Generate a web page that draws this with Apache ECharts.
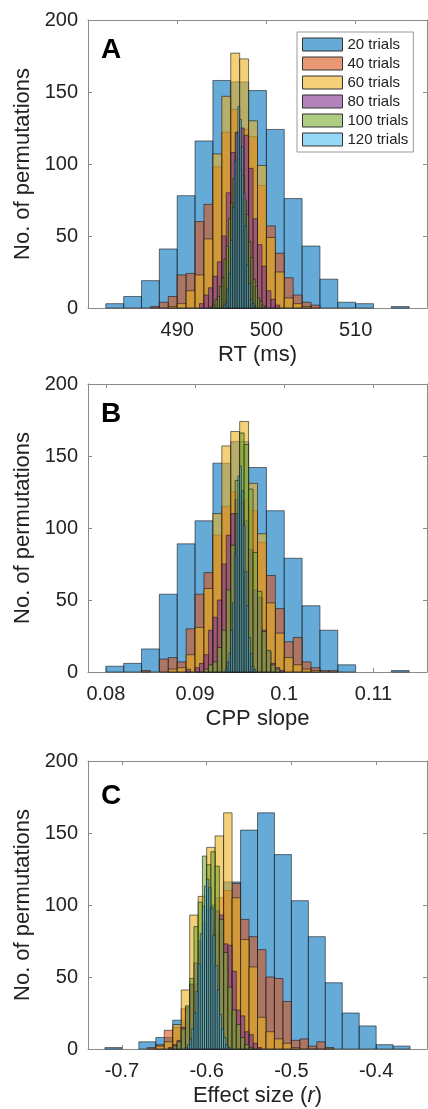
<!DOCTYPE html>
<html><head><meta charset="utf-8">
<script src="https://cdn.jsdelivr.net/npm/echarts@6/dist/echarts.min.js"></script>
<style>html,body{margin:0;padding:0;background:#fff}#c{width:428px;height:1109px}</style>
</head><body><div id="c"></div>
<script>
// ---- series names ----
const seriesNames = ['20 trials','40 trials','60 trials','80 trials','100 trials','120 trials'];

// ---- Panel A: RT (ms) ----  bin starts / widths and counts per series
const A_starts = [482, 487, 489, 492.5, 493.75, 495.2];
const A_bins   = [2, 1, 1, 0.5, 0.25, 0.2];
const A20  = [3, 8, 19, 41, 78, 116, 158, 157, 151, 124, 76, 43, 20, 4, 3, 0, 1];
const A40  = [1, 4, 8, 23, 24, 60, 72, 98, 122, 138, 124, 119, 85, 57, 38, 21, 9, 4, 2];
const A60  = [1, 3, 12, 23, 48, 107, 147, 177, 173, 130, 99, 49, 25, 7, 3, 1];
const A80  = [3, 9, 14, 22, 32, 50, 80, 108, 122, 125, 120, 97, 62, 44, 29, 12, 6, 2];
const A100 = [1, 2, 6, 8, 15, 21, 34, 43, 62, 73, 90, 95, 103, 96, 92, 75, 65, 46, 35, 20, 15, 7, 5, 2, 1];
const A120 = [2, 4, 13, 24, 47, 70, 102, 122, 140, 131, 112, 80, 57, 30, 17, 6, 3, 1];
const A_ticks = [490, 500, 510];

// ---- Panel B: CPP slope ----
const B_starts = [0.080, 0.084, 0.087, 0.089, 0.091, 0.0934];
const B_bins   = [0.002, 0.001, 0.001, 0.0005, 0.0005, 0.0002];
const B20  = [4, 6, 16, 54, 89, 105, 145, 160, 142, 112, 79, 46, 29, 5, 0, 0, 1];
const B40  = [1, 0, 9, 10, 7, 30, 54, 69, 95, 115, 125, 120, 112, 90, 67, 44, 21, 24, 7, 3, 1, 1];
const B60  = [2, 3, 12, 31, 58, 110, 157, 167, 174, 131, 96, 48, 27, 10, 5, 2, 1];
const B80  = [2, 0, 3, 6, 12, 29, 38, 50, 75, 95, 110, 120, 118, 105, 85, 57, 52, 29, 14, 6, 3, 1];
const B100 = [2, 5, 7, 17, 29, 57, 88, 133, 166, 158, 127, 83, 56, 28, 15, 5, 2];
const B120 = [2, 7, 13, 29, 48, 82, 110, 136, 143, 126, 102, 70, 46, 24, 13, 4, 2];
const B_ticks = [0.08, 0.09, 0.1, 0.11];

// ---- Panel C: Effect size (r) ----
const C_starts = [-0.72, -0.67, -0.66, -0.645, -0.64, -0.625];
const C_bins   = [0.02, 0.01, 0.01, 0.005, 0.005, 0.0025];
const C20  = [1, 0, 5, 8, 20, 45, 80, 116, 152, 164, 135, 103, 78, 46, 25, 16, 3, 2];
const C40  = [1, 3, 13, 15, 28, 45, 65, 85, 105, 110, 115, 90, 78, 69, 50, 49, 33, 6, 7, 2, 5, 1];
const C60  = [2, 5, 17, 41, 93, 106, 140, 148, 164, 105, 76, 57, 22, 12, 7, 4, 1];
const C80  = [1, 3, 6, 15, 29, 45, 60, 75, 88, 98, 100, 96, 93, 73, 72, 54, 27, 23, 12, 10, 4, 1];
const C100 = [2, 5, 14, 30, 49, 85, 102, 134, 128, 137, 127, 90, 67, 43, 27, 17, 8, 3, 1];
const C120 = [1, 3, 7, 14, 25, 40, 59, 80, 99, 113, 118, 112, 98, 79, 58, 41, 24, 14, 8, 3, 1];
const C_ticks = [-0.7, -0.6, -0.5, -0.4];

// ---- styling ----
const FF = '"Liberation Sans", Arial, Helvetica, sans-serif';
const fills = ['rgba(0,114,189,0.6)','rgba(217,83,25,0.6)','rgba(237,177,32,0.6)',
               'rgba(126,47,142,0.6)','rgba(119,172,48,0.6)','rgba(77,190,238,0.6)'];
const EDGE = 'rgba(25,25,25,0.75)';
const AX = '#8a8a8a';
const TXT = '#222';

const panels = [
  {counts:[A20,A40,A60,A80,A100,A120], starts:A_starts, bins:A_bins, ticks:A_ticks, min:480, max:518, name:'RT (ms)', letter:'A'},
  {counts:[B20,B40,B60,B80,B100,B120], starts:B_starts, bins:B_bins, ticks:B_ticks, min:0.078, max:0.116, name:'CPP slope', letter:'B'},
  {counts:[C20,C40,C60,C80,C100,C120], starts:C_starts, bins:C_bins, ticks:C_ticks, min:-0.74, max:-0.34, name:'Effect size ({i|r})', letter:'C'}
];
const gridTops = [20, 384, 761];

const grids = [], xAxes = [], yAxes = [], series = [], graphics = [];
panels.forEach((p, gi) => {
  grids.push({left:88, top:gridTops[gi], width:339, height:288, containLabel:false});
  const fmt = v => String(+(+v).toFixed(4));
  xAxes.push({type:'value', gridIndex:gi, min:p.min, max:p.max, position:'bottom',
    name:p.name, nameLocation:'middle', nameGap:36,
    nameTextStyle:{fontSize:22, color:TXT, fontFamily:FF, rich:{i:{fontSize:22, fontStyle:'italic', color:TXT, fontFamily:FF}}},
    axisLine:{show:true, onZero:false, lineStyle:{color:AX, width:1}},
    axisTick:{show:true, inside:true, length:4, customValues:p.ticks, lineStyle:{color:AX}},
    axisLabel:{show:true, customValues:p.ticks, formatter:fmt, fontSize:20, color:TXT, margin:12, fontFamily:FF},
    splitLine:{show:false}});
  xAxes.push({type:'value', gridIndex:gi, min:p.min, max:p.max, position:'top',
    axisLine:{show:true, onZero:false, lineStyle:{color:AX, width:1}},
    axisTick:{show:true, inside:true, length:4, customValues:p.ticks, lineStyle:{color:AX}},
    axisLabel:{show:false}, splitLine:{show:false}});
  yAxes.push({type:'value', gridIndex:gi, min:0, max:200, interval:50, position:'left',
    name:'No. of permutations', nameLocation:'middle', nameGap:46,
    nameTextStyle:{fontSize:22, color:TXT, fontFamily:FF},
    axisLine:{show:true, onZero:false, lineStyle:{color:AX, width:1}},
    axisTick:{show:true, inside:true, length:4, lineStyle:{color:AX}},
    axisLabel:{show:true, fontSize:20, color:TXT, margin:10, fontFamily:FF},
    splitLine:{show:false}});
  yAxes.push({type:'value', gridIndex:gi, min:0, max:200, interval:50, position:'right',
    axisLine:{show:true, onZero:false, lineStyle:{color:AX, width:1}},
    axisTick:{show:true, inside:true, length:4, lineStyle:{color:AX}},
    axisLabel:{show:false}, splitLine:{show:false}});
  p.counts.forEach((arr, k) => {
    const data = [];
    arr.forEach((c, i) => {
      if (c > 0) data.push([p.starts[k] + i * p.bins[k], p.starts[k] + (i + 1) * p.bins[k], c]);
    });
    series.push({
      type:'custom', name:seriesNames[k], xAxisIndex:gi*2, yAxisIndex:gi*2,
      data, encode:{x:[0,1], y:2}, itemStyle:{color:fills[k]},
      renderItem(params, api){
        const p0 = api.coord([api.value(0), api.value(2)]);
        const p1 = api.coord([api.value(1), 0]);
        return {type:'rect', shape:{x:p0[0], y:p0[1], width:p1[0]-p0[0], height:p1[1]-p0[1]},
          style:{fill:fills[k], stroke:EDGE, lineWidth:0.8}};
      }
    });
  });
  graphics.push({type:'text', left:101, top:gridTops[gi] + (gi === 2 ? 21 : 16),
    style:{text:p.letter, fontSize:28, fontWeight:'bold', fontFamily:FF, fill:'#000'}});
});

const chart = echarts.init(document.getElementById('c'), null, {renderer:'canvas'});
chart.setOption({
  animation:false,
  backgroundColor:'#fff',
  grid:grids, xAxis:xAxes, yAxis:yAxes, series,
  graphic:graphics,
  legend:{
    orient:'vertical', left:297, top:32, itemWidth:40, itemHeight:13, itemGap:4,
    padding:[5,5,5,5], borderColor:'#9a9a9a', borderWidth:1, backgroundColor:'#fff',
    selectedMode:false,
    textStyle:{fontSize:15, color:TXT, fontFamily:FF},
    data:seriesNames.map((n,k)=>({name:n, icon:'rect', itemStyle:{color:fills[k], borderColor:'#333', borderWidth:1}}))
  }
});
</script></body></html>
